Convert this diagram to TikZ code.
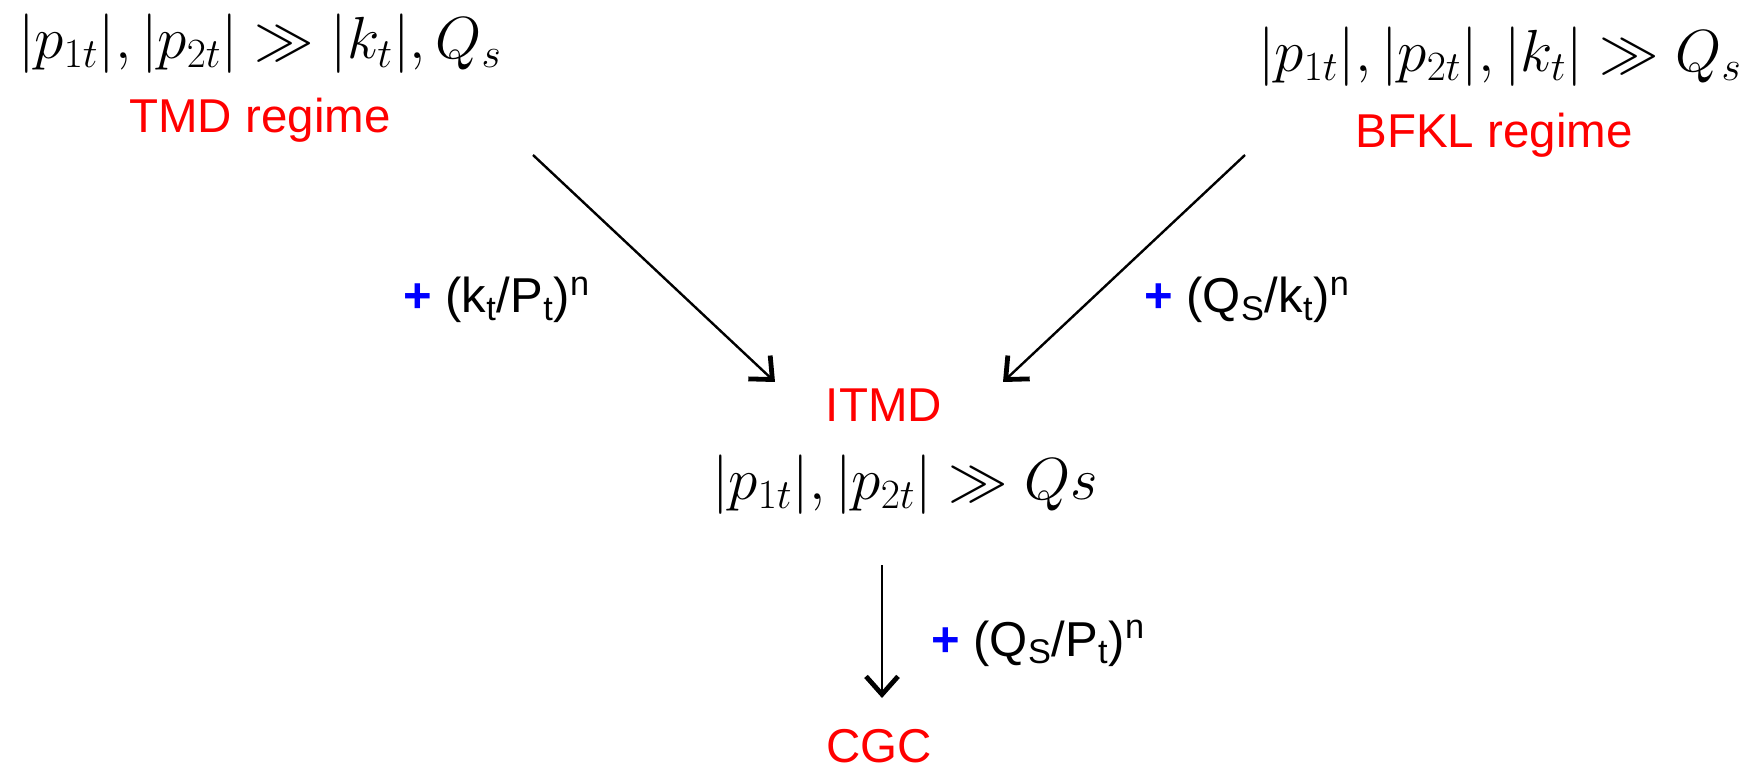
\RequirePackage{fix-cm}
\documentclass[tikz,border=0pt]{standalone}
\usepackage{fontspec}
\newfontfamily\arialfont{Liberation Sans}
\usetikzlibrary{arrows.meta}
\definecolor{RegimeRed}{HTML}{FF0000}
\definecolor{PlusBlue}{HTML}{0000FF}
\tikzset{
  regime/.style={text=RegimeRed, font=\arialfont\fontsize{23.75}{28}\selectfont, inner sep=0pt, anchor=base},
  cond/.style={font=\fontsize{29.7}{35}\selectfont, inner sep=0pt, anchor=base},
  corr/.style={font=\arialfont\fontsize{24.5}{29}\selectfont, inner sep=0pt, anchor=base west},
  flow/.style={-{Straight Barb[length=9pt,width=16pt,line width=2.4pt]}, line width=1.2pt},
}

\begin{document}
\begin{tikzpicture}[x=0.5pt,y=-0.5pt]
	\useasboundingbox (0,0) rectangle (1758,770);
	% TMD regime
	\node[cond] (tmdcond) at (260,59) {$|p_{1t}|, |p_{2t}| \gg |k_t|, Q_s$};
	\node[regime] (tmd) at (260,133) {TMD regime};
	% BFKL regime
	\node[cond] (bfklcond) at (1500,72) {$|p_{1t}|, |p_{2t}|, |k_t| \gg Q_s$};
	\node[regime] (bfkl) at (1494,148) {BFKL regime};
	% ITMD
	\node[regime] (itmd) at (884,422) {ITMD};
	\node[cond] (itmdcond) at (905,500) {$|p_{1t}|, |p_{2t}| \gg Qs$};
	% CGC
	\node[regime] (cgc) at (879,762) {CGC};
	% arrow ends
	\coordinate (tmdout) at (533,155);
	\coordinate (itmdl) at (775,382);
	\coordinate (bfklout) at (1245,155);
	\coordinate (itmdr) at (1003,382);
	\coordinate (itmdout) at (882,565);
	\coordinate (cgcin) at (882,698);
	\draw[flow] (tmdout) -- (itmdl);
	\draw[flow] (bfklout) -- (itmdr);
	\draw[flow] (itmdout) -- (cgcin);
	% corrections
	\node[corr] (tmdcorr) at (403,313) {\textcolor{PlusBlue}{\bfseries +} (k\textsubscript{t}/P\textsubscript{t})\textsuperscript{n}};
	\node[corr] (bfklcorr) at (1144,313) {\textcolor{PlusBlue}{\bfseries +} (Q\textsubscript{S}/k\textsubscript{t})\textsuperscript{n}};
	\node[corr] (cgccorr) at (931,656) {\textcolor{PlusBlue}{\bfseries +} (Q\textsubscript{S}/P\textsubscript{t})\textsuperscript{n}};
\end{tikzpicture}
\end{document}
